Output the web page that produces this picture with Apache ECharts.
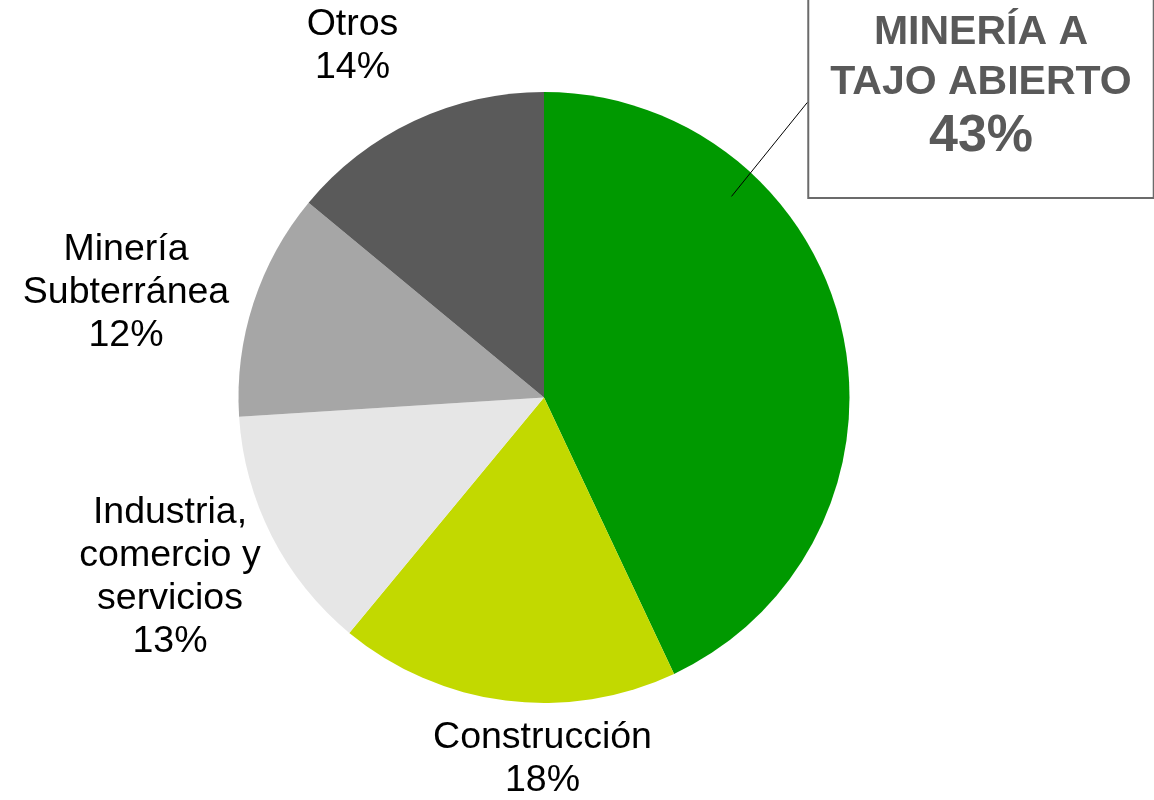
<!DOCTYPE html>
<html>
<head>
<meta charset="utf-8">
<script src="https://cdn.jsdelivr.net/npm/echarts@6/dist/echarts.min.js"></script>
<style>
	html, body { margin: 0; padding: 0; background: #fff; }
	#chart { width: 1154px; height: 800px; }
</style>
</head>
<body>
<div id="chart"></div>
<script>
// datos del grafico
var sectores = ['MINERÍA A\nTAJO ABIERTO', 'Construcción', 'Industria,\ncomercio y\nservicios', 'Minería\nSubterránea', 'Otros']
var porcentajes = [43, 18, 13, 12, 14]
var colores = ['#009900', '#c2d900', '#e6e6e6', '#a6a6a6', '#5a5a5a']

// donde va cada etiqueta (centro del bloque de texto)
var posEtiquetas = [[981, 97.5], [542.5, 759], [170, 577.5], [126, 292.5], [352.5, 46]]
var centro = [544, 397.5]
var radio = 305.5

var chart = echarts.init(document.getElementById('chart'))
var finLinea = null

var datos = sectores.map(function(nombre, i) {
	var item = {
		name: nombre,
		value: porcentajes[i],
		itemStyle: { color: colores[i] }
	}
	if (i == 0) { // la etiqueta destacada en recuadro
		item.label = {
			formatter: function(p) {
				return p.name.split('\n').map(function(s) { return '{t|' + s + '}' }).join('\n') +
					'\n{p|' + p.value + '%}'
			},
			backgroundColor: '#fff',
			borderColor: '#6b6b6b',
			borderWidth: 2,
			padding: [10, 21, 31, 21],
			rich: {
				t: { fontSize: 41, fontWeight: 'bold', color: '#595959', lineHeight: 50, align: 'center',
					fontFamily: 'Liberation Sans, Arial, sans-serif' },
				p: { fontSize: 52, fontWeight: 'bold', color: '#595959', lineHeight: 58, align: 'center',
					fontFamily: 'Liberation Sans, Arial, sans-serif' }
			}
		}
	}
	return item
})

var option = {
	animation: false,
	series: [{
		type: 'pie',
		center: centro,
		radius: radio,
		startAngle: 90,
		clockwise: true,
		avoidLabelOverlap: false,
		label: {
			show: true,
			position: 'outside',
			formatter: '{b}\n{c}%',
			color: '#000',
			fontSize: 37.5,
			lineHeight: 43,
			align: 'center',
			fontFamily: 'Liberation Sans, Arial, sans-serif'
		},
		labelLine: { show: false },
		labelLayout: function(params) {
			var p = posEtiquetas[params.dataIndex]
			if (params.dataIndex == 0) finLinea = [p[0] - params.labelRect.width / 2, p[1] + 5]
			return { x: p[0], y: p[1], align: 'center', verticalAlign: 'middle' }
		},
		emphasis: { disabled: true },
		data: datos
	}]
}

chart.setOption(option)

// linea desde dentro del sector verde hasta el borde izquierdo del recuadro
if (finLinea) {
	var ang = 43 * Math.PI / 180
	var ini = [centro[0] + 0.9 * radio * Math.sin(ang), centro[1] - 0.9 * radio * Math.cos(ang)]
	chart.setOption({
		graphic: [{
			type: 'line',
			z: 100,
			shape: { x1: ini[0], y1: ini[1], x2: finLinea[0], y2: finLinea[1] },
			style: { stroke: '#000', lineWidth: 1 }
		}]
	})
}
</script>
</body>
</html>
